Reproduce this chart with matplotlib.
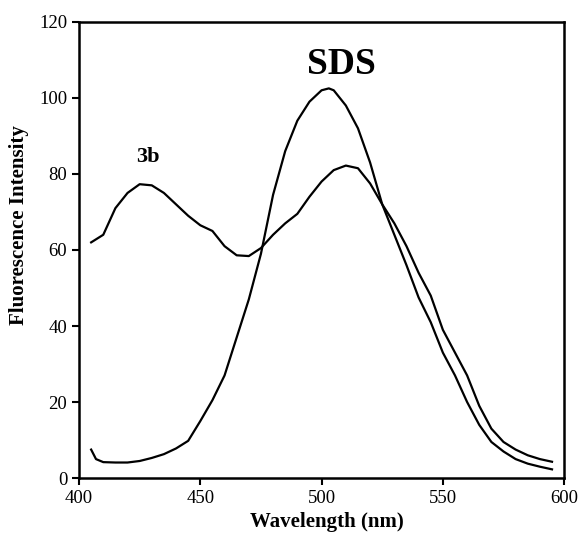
import matplotlib
matplotlib.use("Agg")
import matplotlib.pyplot as plt

plt.rcParams['font.family'] = ['Liberation Serif', 'DejaVu Serif']

wavelength_3b = [405, 410, 415, 420, 425, 430, 435, 440, 445, 450, 455, 460, 465, 470,
                 475, 480, 485, 490, 495, 500, 505, 510, 515, 520, 525, 530, 535, 540,
                 545, 550, 555, 560, 565, 570, 575, 580, 585, 590, 595]
intensity_3b = [62, 64, 71, 75, 77.3, 77, 75, 72, 69, 66.5, 65, 61, 58.6, 58.4,
                60.5, 64, 67, 69.5, 74, 78, 81, 82.2, 81.5, 77.5, 72, 67, 61, 54,
                48, 39, 33, 27, 19, 13, 9.5, 7.5, 6, 5, 4.3]

wavelength_sds = [405, 407, 410, 415, 420, 425, 430, 435, 440, 445, 450, 455, 460, 465,
                  470, 475, 480, 485, 490, 495, 500, 503, 505, 510, 515, 520, 525, 530,
                  535, 540, 545, 550, 555, 560, 565, 570, 575, 580, 585, 590, 595]
intensity_sds = [7.5, 5, 4.2, 4.1, 4.1, 4.5, 5.3, 6.3, 7.8, 9.8, 15, 20.5, 27, 37,
                 47, 59, 74.5, 86, 94, 99, 102, 102.5, 102, 98, 92, 83, 72, 64,
                 56, 47.5, 41, 33, 27, 20, 14, 9.5, 7, 5, 3.8, 3, 2.3]

x_ticks = [400, 450, 500, 550, 600]
y_ticks = [0, 20, 40, 60, 80, 100, 120]

fig = plt.figure(figsize=(5.81, 5.33), dpi=100)
ax = fig.add_axes([0.136, 0.103, 0.835, 0.856])

ax.plot(wavelength_3b, intensity_3b, color='black', lw=1.6)
ax.plot(wavelength_sds, intensity_sds, color='black', lw=1.6)

ax.set_xlim(400, 600)
ax.set_ylim(0, 120)
ax.set_xticks(x_ticks)
ax.set_yticks(y_ticks)
ax.tick_params(direction='out', length=5, width=1.5, labelsize=13.5, top=False, right=False)
for s in ax.spines.values():
    s.set_linewidth(1.8)

ax.set_xlabel('Wavelength (nm)', fontsize=15, fontweight='bold')
ax.set_ylabel('Fluorescence Intensity', fontsize=15, fontweight='bold')
ax.xaxis.set_label_coords(0.51, -0.074)
ax.yaxis.set_label_coords(-0.104, 0.554)

ax.text(508, 108.7, 'SDS', fontsize=27, fontweight='bold', ha='center', va='center')
ax.text(428.5, 84.5, '3b', fontsize=16, fontweight='bold', ha='center', va='center')

fig.savefig('out.png', dpi=100)
